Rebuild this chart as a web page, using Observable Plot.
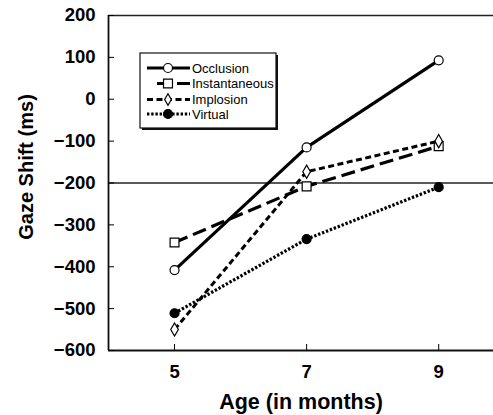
<!DOCTYPE html>
<html>
<head>
<meta charset="utf-8">
<script src="https://cdn.jsdelivr.net/npm/d3@7"></script>
<script src="https://cdn.jsdelivr.net/npm/@observablehq/plot@0.6"></script>
<style>
  body { margin: 0; background: #fff; }
  #wrap { position: relative; width: 493px; height: 415px; overflow: hidden; }
  #wrap svg { position: absolute; left: 0; top: 0; }
</style>
</head>
<body>
<div id="wrap"></div>
<script>
// ---- data ----
const ages = [5, 7, 9];
const occlusion = [-408, -115, 93];
const instantaneous = [-342, -208, -112];
const implosion = [-550, -173, -100];
const virtual = [-511, -334, -210];
const seriesNames = ["Occlusion", "Instantaneous", "Implosion", "Virtual"];
const yTicks = [200, 100, 0, -100, -200, -300, -400, -500, -600];
const xTicks = [5, 7, 9];
const referenceLine = [-200];
const xDomain = [4, 9.83];
const yDomain = [-600, 200];

const seriesValues = [occlusion, instantaneous, implosion, virtual];
const styles = {
  Occlusion:     {dash: null,      width: 3.2, symbol: "circle",  fill: "white", r: 4.5},
  Instantaneous: {dash: "14,6",    width: 3.2, symbol: "square",  fill: "white", r: 5},
  Implosion:     {dash: "6,3.5",   width: 3,   symbol: "diamond", fill: "white", r: 4},
  Virtual:       {dash: "2.4,1.8", width: 3.2, symbol: "circle",  fill: "black", r: 4.5}
};
const rows = [];
seriesNames.forEach((s, i) => ages.forEach((a, j) => rows.push({series: s, age: a, value: seriesValues[i][j]})));

const fontFamily = "'Liberation Sans', Arial, sans-serif";
const marks = [
  Plot.ruleY(referenceLine, {stroke: "#222", strokeWidth: 1.4}),
  Plot.ruleY([yDomain[1]], {stroke: "#222", strokeWidth: 1.6}),
  Plot.ruleY([yDomain[0]], {stroke: "#111", strokeWidth: 1.8}),
  Plot.ruleX([xDomain[0]], {stroke: "#111", strokeWidth: 1.8}),
  Plot.axisY({ticks: yTicks, tickSize: -6, tickPadding: 19, tickFormat: d3.format("d"), fontSize: 18.5, fontWeight: "bold", fill: "#000", label: null}),
  Plot.axisX({ticks: xTicks, tickSize: -6, tickPadding: 20, tickFormat: d3.format("d"), fontSize: 18.5, fontWeight: "bold", fill: "#000", label: null})
];
seriesNames.forEach(s => {
  const st = styles[s];
  const data = rows.filter(d => d.series === s);
  marks.push(Plot.line(data, {x: "age", y: "value", stroke: "black", strokeWidth: st.width, strokeDasharray: st.dash, strokeLinecap: "butt", strokeLinejoin: "miter"}));
  marks.push(Plot.dot(data, {x: "age", y: "value", symbol: st.symbol, r: st.r, fill: st.fill, stroke: "black", strokeWidth: 1.2}));
});

const chart = Plot.plot({
  width: 493, height: 415,
  marginLeft: 108, marginRight: 0, marginTop: 15, marginBottom: 65,
  style: {fontFamily, background: "white", color: "#000"},
  x: {domain: xDomain, label: null},
  y: {domain: yDomain, label: null},
  marks
});
document.getElementById("wrap").appendChild(chart);

// ---- overlay: axis titles and legend ----
const svg = d3.select("#wrap").append("svg").attr("width", 493).attr("height", 415)
  .style("font-family", fontFamily);
svg.append("text").attr("x", 301).attr("y", 409).attr("text-anchor", "middle")
  .attr("font-size", 21.5).attr("font-weight", "bold").text("Age (in months)");
svg.append("text").attr("transform", "translate(33,167) rotate(-90)").attr("text-anchor", "middle")
  .attr("font-size", 20).attr("font-weight", "bold").text("Gaze Shift (ms)");

const lg = svg.append("g");
lg.append("rect").attr("x", 142).attr("y", 55).attr("width", 136).attr("height", 75).attr("fill", "#111");
lg.append("rect").attr("x", 140).attr("y", 53).attr("width", 136).attr("height", 75).attr("fill", "white").attr("stroke", "#111").attr("stroke-width", 1.2);
const sym = {circle: d3.symbolCircle, square: d3.symbolSquare, diamond: d3.symbolDiamond};
const rowY = [68, 83.5, 99.5, 114];
seriesNames.forEach((s, i) => {
  const st = styles[s];
  const y = rowY[i];
  const x0 = s === "Instantaneous" ? 157 : 147;
  lg.append("line").attr("x1", x0).attr("x2", 190).attr("y1", y).attr("y2", y)
    .attr("stroke", "black").attr("stroke-width", st.width).attr("stroke-dasharray", st.dash);
  const area = st.symbol === "circle" ? Math.PI * st.r * st.r : st.symbol === "square" ? 4 * st.r * st.r * 0.8 : 2 * st.r * st.r * 1.2;
  lg.append("path").attr("d", d3.symbol(sym[st.symbol], area)()).attr("transform", `translate(168,${y})`)
    .attr("fill", st.fill).attr("stroke", "black").attr("stroke-width", 1.2);
  lg.append("text").attr("x", 192).attr("y", y).attr("dy", "0.36em").attr("font-size", 13).text(s);
});
</script>
</body>
</html>
